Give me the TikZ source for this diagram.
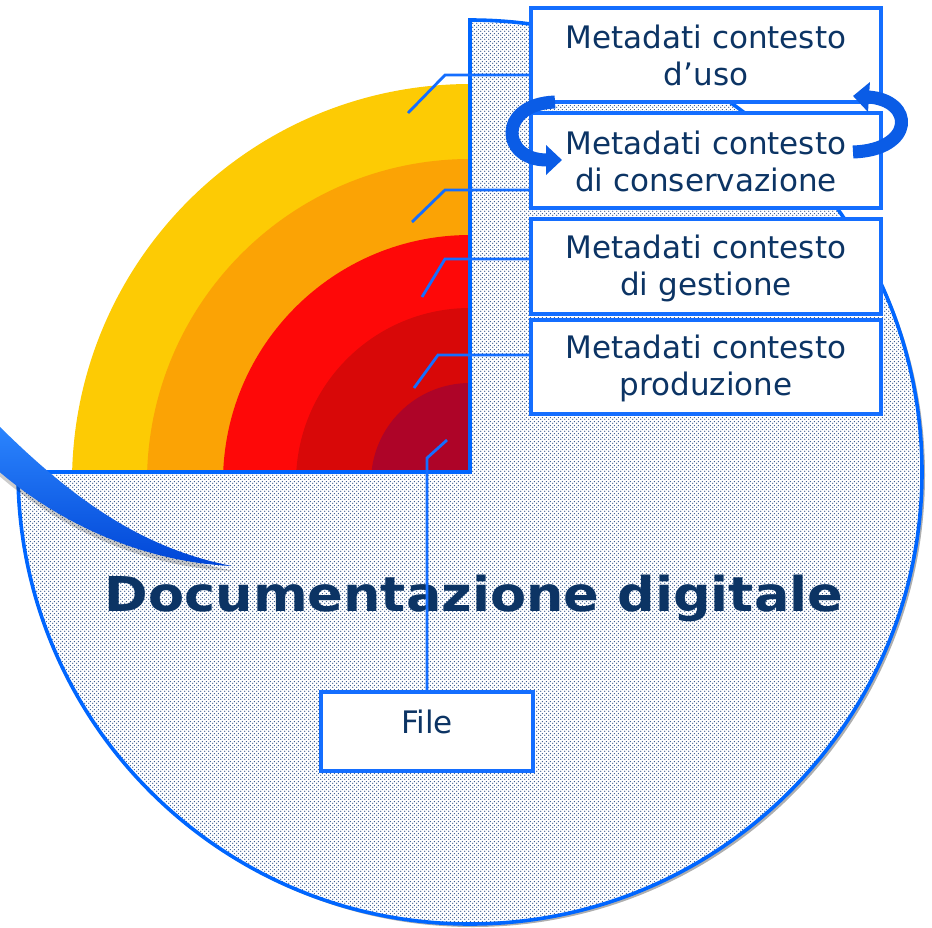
\documentclass[tikz,border=0pt]{standalone}
\usepackage{fontspec}
\setmainfont{DejaVu Sans}
\usetikzlibrary{arrows.meta,patterns.meta}
\definecolor{dotc}{RGB}{45,80,135}
\definecolor{circblue}{RGB}{0,102,255}
\definecolor{lineblue}{RGB}{20,110,255}
\definecolor{boxblue}{RGB}{20,110,255}
\definecolor{txtc}{RGB}{12,52,100}
\definecolor{arrowblue}{RGB}{10,92,230}
\definecolor{swtop}{RGB}{45,135,255}
\definecolor{swbot}{RGB}{0,70,215}
\definecolor{ringA}{RGB}{253,203,4}
\definecolor{ringB}{RGB}{251,163,5}
\definecolor{ringC}{RGB}{254,8,8}
\definecolor{ringD}{RGB}{216,8,8}
\definecolor{ringE}{RGB}{174,4,40}
\pgfdeclarepattern{name=mydots,type=uncolored,
  bottom left={\pgfpoint{0pt}{0pt}},top right={\pgfpoint{4pt}{4pt}},
  tile size={\pgfpoint{4pt}{4pt}},
  code={\pgfpathcircle{\pgfpoint{1pt}{1pt}}{0.8pt}\pgfpathcircle{\pgfpoint{3pt}{3pt}}{0.8pt}\pgfusepath{fill}}}
\newcommand\mystrut{\rule[-3pt]{0pt}{30pt}}
\tikzset{
  mbox/.style={draw=boxblue,line width=3.2pt,fill=white,minimum width=350pt,inner sep=0pt,
    align=center,font=\fontsize{31}{37}\selectfont,text=txtc},
  leader/.style={draw=lineblue,line width=2.8pt},
  cyc/.style={draw=arrowblue,line width=13pt,-{Triangle[length=16pt,width=29pt]}}
}
\begin{document}
\begin{tikzpicture}[x=1pt,y=-1pt]
\useasboundingbox (0,0) rectangle (932,927);
% shadow of the big disc
\fill[black!45,opacity=0.7] (473,475) -- (21,475) arc[start angle=180,end angle=-90,radius=452] -- cycle;
% big disc (three quarters)
\fill[white] (470,472) -- (18,472) arc[start angle=180,end angle=-90,radius=452] -- cycle;
\fill[pattern=mydots,pattern color=dotc] (470,472) -- (18,472) arc[start angle=180,end angle=-90,radius=452] -- cycle;
% rings
\begin{scope}
\clip (0,0) rectangle (470,472);
\fill[ringA] (470,482) circle[radius=398];
\fill[ringB] (470,482) circle[radius=323];
\fill[ringC] (470,482) circle[radius=247];
\fill[ringD] (470,482) circle[radius=174];
\fill[ringE] (470,482) circle[radius=99];
\end{scope}
\draw[circblue,line width=3.6pt] (470,472) -- (18,472) arc[start angle=180,end angle=-90,radius=452] -- cycle;
% swoosh
\fill[black,opacity=0.2] (-3,428) .. controls (72,503) and (142,554) .. (234,571) .. controls (147,568) and (62,531) .. (-3,474) -- cycle;
\shade[top color=swtop,bottom color=swbot] (-5,422) .. controls (70,497) and (140,548) .. (232,566) .. controls (145,562) and (60,525) .. (-5,468) -- cycle;
% title
\node[font=\bfseries\fontsize{48}{56}\selectfont,text=txtc,anchor=base,xscale=1.095] (dd) at (474,611) {Documentazione digitale};
% boxes
\node[mbox,minimum height=94pt] (b1) at (706,55) {Metadati contesto\mystrut\\d’uso\mystrut};
\node[mbox,minimum height=95pt] (b2) at (706,160.5) {Metadati contesto\mystrut\\di conservazione\mystrut};
\node[mbox,minimum height=95pt] (b3) at (706,266.5) {Metadati contesto\mystrut\\di gestione\mystrut};
\node[mbox,minimum height=94pt] (b4) at (706,367) {Metadati contesto\mystrut\\produzione\mystrut};
\node[mbox,minimum width=212pt,minimum height=79pt,text height=23.6pt,text depth=20.5pt] (fb) at (427,731.5) {File};
% leader lines
\coordinate (k1) at (445,75);  \coordinate (e1) at (408,113);
\coordinate (k2) at (445,190); \coordinate (e2) at (412,222);
\coordinate (k3) at (445,259); \coordinate (e3) at (422,297);
\coordinate (k4) at (438,355); \coordinate (e4) at (414,388);
\coordinate (k5) at (427,458); \coordinate (e5) at (447,440);
\draw[leader] ([yshift=-20pt]b1.west) -- (k1) -- (e1);
\draw[leader] ([yshift=-29.5pt]b2.west) -- (k2) -- (e2);
\draw[leader] ([yshift=7.5pt]b3.west) -- (k3) -- (e3);
\draw[leader] ([yshift=12pt]b4.west) -- (k4) -- (e4);
\draw[leader] (fb.north) -- (k5) -- (e5);
% cycle arrows
\draw[cyc] (555,102) .. controls (498,104) and (500,160) .. (562,160);
\draw[cyc] (853,152) .. controls (915,150) and (915,100) .. (853,96);
\end{tikzpicture}
\end{document}
